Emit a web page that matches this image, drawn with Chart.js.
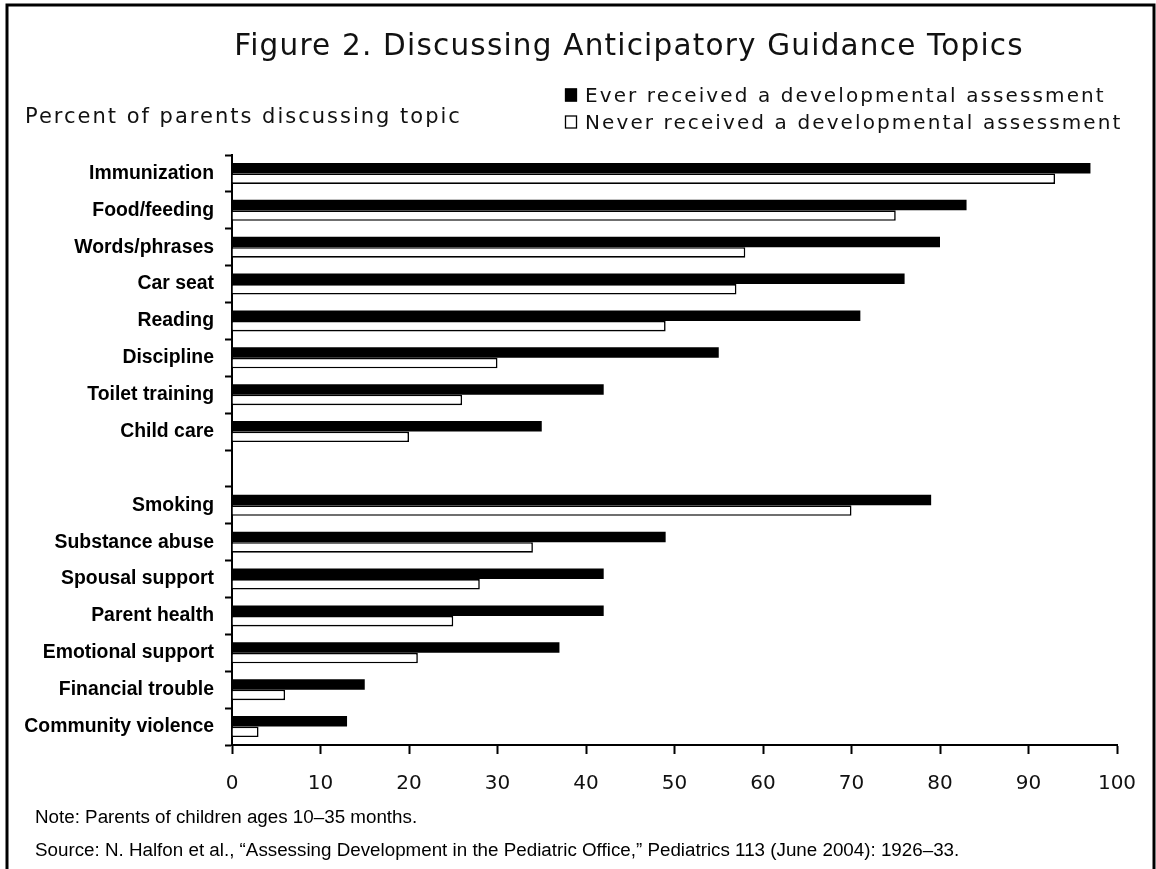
<!DOCTYPE html>
<html>
<head>
<meta charset="utf-8">
<script src="https://cdn.jsdelivr.net/npm/chart.js@4/dist/chart.umd.min.js"></script>
<style>
  html, body { margin: 0; padding: 0; background: #fff; }
  #wrap { position: relative; width: 1156px; height: 869px; }
</style>
</head>
<body>
<div id="wrap"><canvas id="chart"></canvas></div>
<script>
// Topics discussed (blank entry separates child topics from family topics)
const topics = [
  'Immunization', 'Food/feeding', 'Words/phrases', 'Car seat', 'Reading',
  'Discipline', 'Toilet training', 'Child care', '',
  'Smoking', 'Substance abuse', 'Spousal support', 'Parent health',
  'Emotional support', 'Financial trouble', 'Community violence'
];
// Percent of parents discussing each topic
const everAssessed  = [97, 83, 80, 76, 71, 55, 42, 35, null, 79, 49, 42, 42, 37, 15, 13];
const neverAssessed = [93, 75, 58, 57, 49, 30, 26, 20, null, 70, 34, 28, 25, 21, 6, 3];
const seriesNames = ['Ever received a developmental assessment', 'Never received a developmental assessment'];
const xTicks = [0, 10, 20, 30, 40, 50, 60, 70, 80, 90, 100];

const titleText = 'Figure 2. Discussing Anticipatory Guidance Topics';
const subtitleText = 'Percent of parents discussing topic';
const noteText = 'Note: Parents of children ages 10\u201335 months.';
const sourceText = 'Source: N. Halfon et al., \u201cAssessing Development in the Pediatric Office,\u201d Pediatrics 113 (June 2004): 1926\u201333.';

const WIDE = '"DejaVu Sans", sans-serif';
const ARIAL = '"Liberation Sans", Arial, sans-serif';

// Frame, headings, legend and footnotes drawn around the plot
const decorations = {
  id: 'decorations',
  afterDraw(chart) {
    const ctx = chart.ctx;
    ctx.save();
    // outer frame (open at the bottom)
    ctx.strokeStyle = '#000';
    ctx.lineWidth = 3;
    ctx.beginPath();
    ctx.moveTo(7, 869);
    ctx.lineTo(7, 5);
    ctx.lineTo(1154, 5);
    ctx.lineTo(1154, 869);
    ctx.stroke();

    ctx.fillStyle = '#111';
    ctx.textBaseline = 'alphabetic';
    // title
    ctx.font = '400 29.5px ' + WIDE;
    ctx.letterSpacing = '1.2px';
    ctx.textAlign = 'center';
    ctx.fillText(titleText, 629, 55);
    // axis caption
    ctx.font = '400 21px ' + WIDE;
    ctx.letterSpacing = '2px';
    ctx.textAlign = 'left';
    ctx.fillText(subtitleText, 25, 123);

    // legend
    ctx.font = '400 20px ' + WIDE;
    ctx.letterSpacing = '2.1px';
    const ds = chart.data.datasets;
    const rows = [95, 122];
    ds.forEach((d, i) => {
      const cy = rows[i];
      ctx.fillStyle = d.backgroundColor;
      ctx.fillRect(565, cy - 6.5, 12, 13);
      ctx.strokeStyle = '#000';
      ctx.lineWidth = 1.3;
      ctx.strokeRect(565.5, cy - 6, 11, 12);
      ctx.fillStyle = '#111';
      ctx.fillText(d.label, 585, cy + 7);
    });

    // footnotes
    ctx.letterSpacing = '0px';
    ctx.font = '400 18.8px ' + ARIAL;
    ctx.fillStyle = '#000';
    ctx.fillText(noteText, 35, 823);
    ctx.fillText(sourceText, 35, 856);
    ctx.restore();
  }
};

new Chart(document.getElementById('chart'), {
  type: 'bar',
  data: {
    labels: topics,
    datasets: [
      {
        label: seriesNames[0],
        data: everAssessed,
        backgroundColor: '#000000',
        borderColor: '#000000',
        borderWidth: 0
      },
      {
        label: seriesNames[1],
        data: neverAssessed,
        backgroundColor: '#ffffff',
        borderColor: '#000000',
        borderWidth: 1.6,
        borderSkipped: 'start'
      }
    ]
  },
  options: {
    indexAxis: 'y',
    responsive: true,
    maintainAspectRatio: false,
    animation: false,
    categoryPercentage: 0.57,
    barPercentage: 1.0,
    layout: { padding: { top: 155, right: 39, bottom: 0, left: 0 } },
    plugins: {
      legend: { display: false },
      title: { display: false },
      tooltip: { enabled: false }
    },
    scales: {
      x: {
        type: 'linear',
        position: 'bottom',
        min: 0,
        max: 100,
        afterBuildTicks(scale) { scale.ticks = xTicks.map(v => ({ value: v })); },
        afterFit(scale) {
          scale.height = 124;
          scale.paddingLeft = 0;
          scale.paddingRight = 0;
        },
        grid: {
          drawOnChartArea: false,
          drawTicks: true,
          tickLength: 9,
          tickWidth: 2,
          tickColor: '#000'
        },
        border: { display: true, color: '#000', width: 2 },
        ticks: {
          padding: 18,
          color: '#111',
          font: { family: WIDE, size: 20, weight: '400' },
          maxRotation: 0
        }
      },
      y: {
        type: 'category',
        position: 'left',
        afterFit(scale) {
          scale.width = 232;
          scale.paddingTop = 0;
          scale.paddingBottom = 0;
        },
        grid: {
          offset: true,
          drawOnChartArea: false,
          drawTicks: true,
          tickLength: 7,
          tickWidth: 2,
          tickColor: '#000'
        },
        border: { display: true, color: '#000', width: 2 },
        ticks: {
          padding: 11,
          color: '#000',
          autoSkip: false,
          font: { family: ARIAL, size: 19.4, weight: 'bold' }
        }
      }
    }
  },
  plugins: [decorations]
});
</script>
</body>
</html>
